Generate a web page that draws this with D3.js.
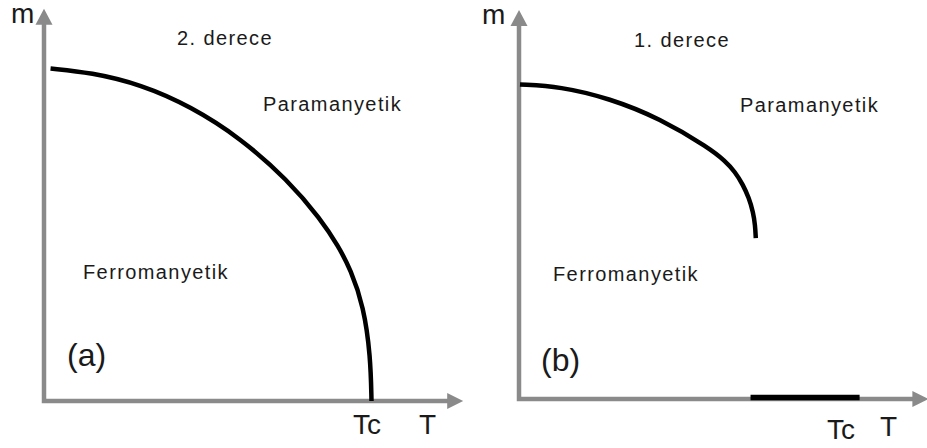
<!DOCTYPE html>
<html>
<head>
<meta charset="utf-8">
<script src="https://cdn.jsdelivr.net/npm/d3@7"></script>
<style>
  html, body { margin: 0; padding: 0; background: #fff; }
  svg { display: block; }
  text { font-family: "Liberation Sans", Arial, sans-serif; fill: #1a1a1a; }
</style>
</head>
<body>
<svg id="chart" width="927" height="448"></svg>
<script>
// Magnetisation m versus temperature T (reduced units, Tc = 1)
// (a) second-order transition: m falls continuously to zero at Tc
const tSecond = [0.02, 0.143, 0.296, 0.448, 0.601, 0.744, 0.845, 0.899, 0.936, 0.976, 0.997, 1.0];
const mSecond = [1.0, 0.988, 0.952, 0.886, 0.790, 0.665, 0.547, 0.465, 0.396, 0.285, 0.135, 0.0];

// (b) first-order transition: m drops abruptly from a finite value
const tFirst = [0.003, 0.125, 0.277, 0.430, 0.582, 0.629, 0.660, 0.684, 0.702, 0.715, 0.721, 0.723];
const mFirst = [0.946, 0.940, 0.904, 0.844, 0.754, 0.716, 0.683, 0.644, 0.605, 0.562, 0.523, 0.484];

// zero-magnetisation branch drawn on the T axis in panel (b)
const tZero = [0.707, 1.04];
const mZero = [0, 0];

const panels = [
  { t: tSecond, m: mSecond, zero: null, x0: 44, y0: 401, tMax: 1.28, mMax: 1.18,
    order: "2. derece", tag: "(a)",
    labels: { m: [11, 23], order: [177, 45], para: [263, 111], ferro: [83, 279], tag: [67, 366], tc: [353, 434], T: [419, 434] } },
  { t: tFirst, m: mFirst, zero: { t: tZero, m: mZero }, x0: 519, y0: 399, tMax: 1.25, mMax: 1.17,
    order: "1. derece", tag: "(b)",
    labels: { m: [482, 24], order: [634, 47], para: [740, 112], ferro: [553, 281], tag: [541, 371], tc: [827, 439], T: [880, 436] } }
];

const svg = d3.select("#chart");
const pxPerT = 327.5, pxPerM = 332.5;
const axisColor = "#8a8a8a";

panels.forEach(p => {
  const x = d3.scaleLinear().domain([0, 1]).range([p.x0, p.x0 + pxPerT]);
  const y = d3.scaleLinear().domain([0, 1]).range([p.y0, p.y0 - pxPerM]);
  const g = svg.append("g");

  // axes with arrow heads
  g.append("path")
    .attr("d", `M${x(0)},${y(p.mMax) + 12}L${x(0)},${y(0)}L${x(p.tMax) - 12},${y(0)}`)
    .attr("fill", "none").attr("stroke", axisColor).attr("stroke-width", 4.5)
    .attr("stroke-linejoin", "miter");
  g.append("path")
    .attr("d", `M${x(0)},${y(p.mMax)}L${x(0) + 8.5},${y(p.mMax) + 16}L${x(0) - 8.5},${y(p.mMax) + 16}Z`)
    .attr("fill", axisColor);
  g.append("path")
    .attr("d", `M${x(p.tMax)},${y(0)}L${x(p.tMax) - 16},${y(0) - 8}L${x(p.tMax) - 16},${y(0) + 8}Z`)
    .attr("fill", axisColor);

  // magnetisation curve (B-spline through the sampled points)
  const pts = p.t.map((t, i) => [t, p.m[i]]);
  const line = d3.line().x(d => x(d[0])).y(d => y(d[1])).curve(d3.curveBasis);
  g.append("path").attr("d", line(pts))
    .attr("fill", "none").attr("stroke", "#000").attr("stroke-width", 4.5);

  if (p.zero) {
    const zpts = p.zero.t.map((t, i) => [t, p.zero.m[i]]);
    g.append("path").attr("d", d3.line().x(d => x(d[0])).y(d => y(d[1]) - 1.5)(zpts))
      .attr("fill", "none").attr("stroke", "#000").attr("stroke-width", 5.5);
  }

  const L = p.labels;
  const txt = (pos, s, size, ls) => g.append("text")
    .attr("x", pos[0]).attr("y", pos[1])
    .attr("font-size", size).attr("letter-spacing", ls || 0).text(s);

  txt(L.m, "m", 28, 0);
  txt(L.order, p.order, 20, 1.4);
  txt(L.para, "Paramanyetik", 20, 1.4);
  txt(L.ferro, "Ferromanyetik", 20, 1.4);
  txt(L.tag, p.tag, 32, 0);
  txt(L.tc, "Tc", 28, 0);
  txt(L.T, "T", 28, 0);
});
</script>
</body>
</html>
